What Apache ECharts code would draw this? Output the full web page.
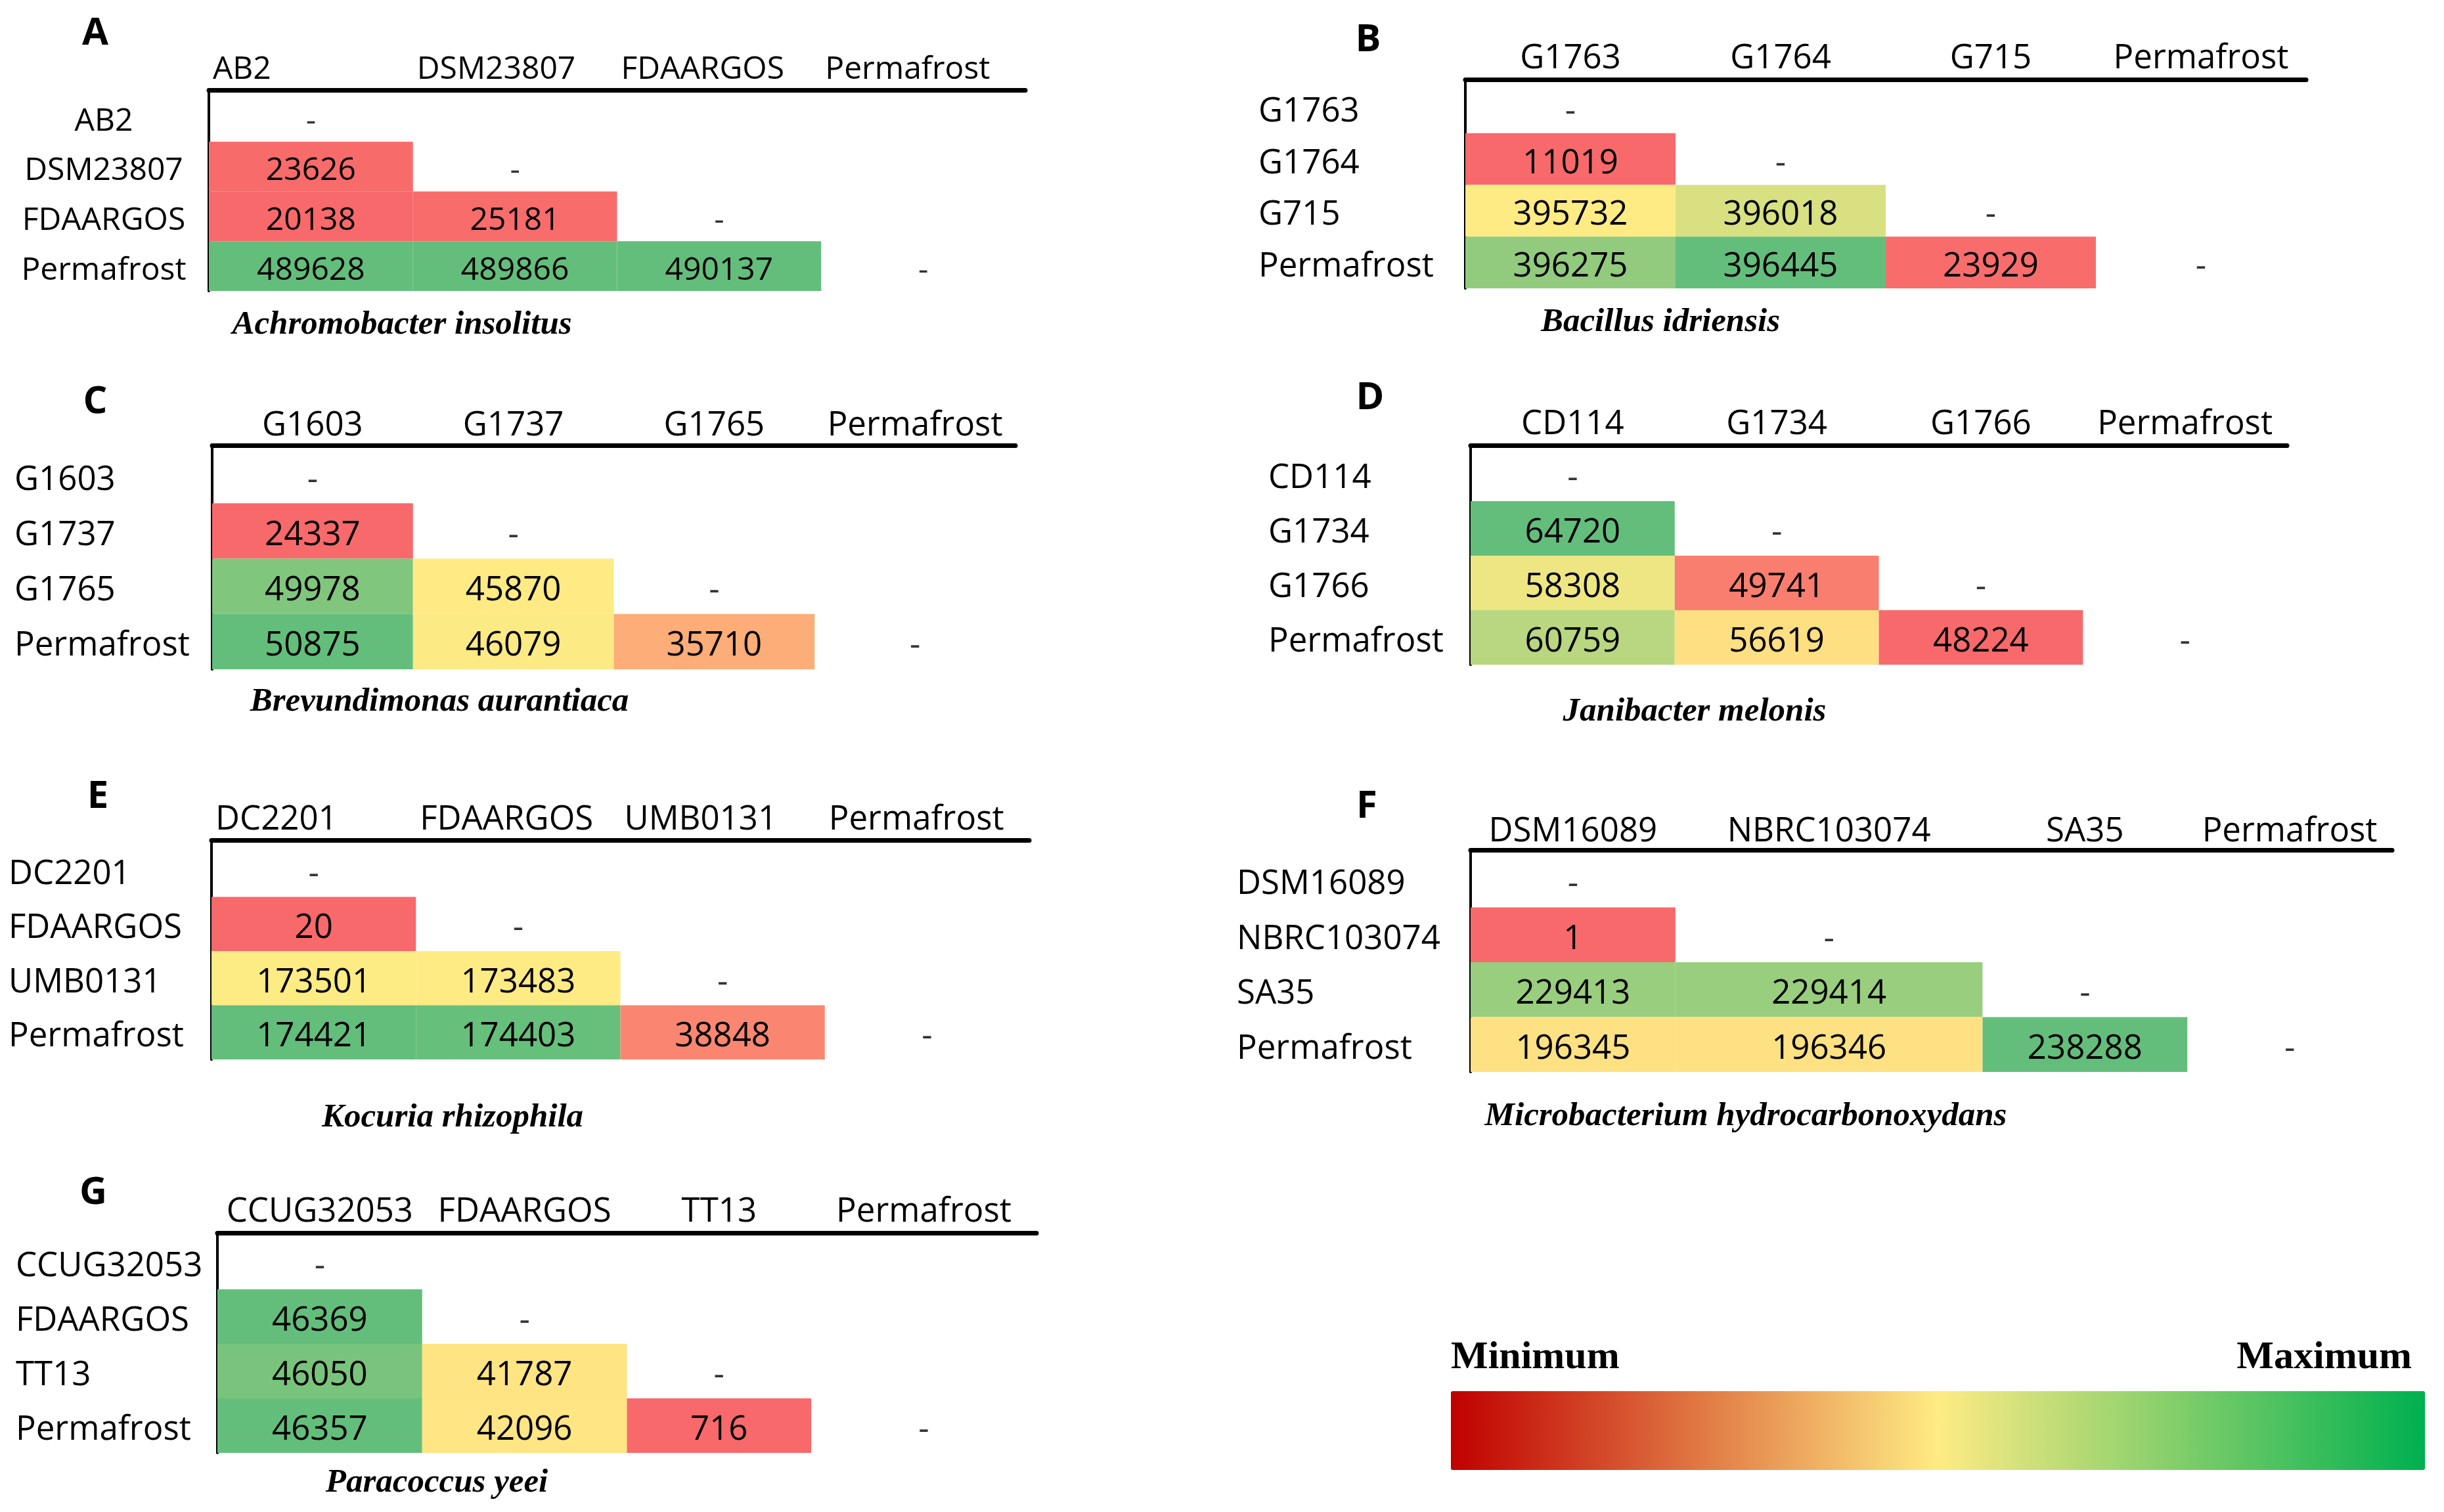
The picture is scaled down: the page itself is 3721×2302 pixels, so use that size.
<!DOCTYPE html>
<html>
<head>
<meta charset="utf-8">
<script src="https://cdn.jsdelivr.net/npm/echarts@6/dist/echarts.min.js"></script>
<style>
html, body { margin: 0; padding: 0; background: #fff; }
#main { width: 3721px; height: 2302px; }
</style>
</head>
<body>
<div id="main"></div>
<script>
// strain names and lower-triangle values (row 2..4 of each table)
var namesA = ['AB2', 'DSM23807', 'FDAARGOS', 'Permafrost'];
var valuesA = [[23626], [20138, 25181], [489628, 489866, 490137]];

var namesB = ['G1763', 'G1764', 'G715', 'Permafrost'];
var valuesB = [[11019], [395732, 396018], [396275, 396445, 23929]];

var namesC = ['G1603', 'G1737', 'G1765', 'Permafrost'];
var valuesC = [[24337], [49978, 45870], [50875, 46079, 35710]];

var namesD = ['CD114', 'G1734', 'G1766', 'Permafrost'];
var valuesD = [[64720], [58308, 49741], [60759, 56619, 48224]];

var namesE = ['DC2201', 'FDAARGOS', 'UMB0131', 'Permafrost'];
var valuesE = [[20], [173501, 173483], [174421, 174403, 38848]];

var namesF = ['DSM16089', 'NBRC103074', 'SA35', 'Permafrost'];
var valuesF = [[1], [229413, 229414], [196345, 196346, 238288]];

var namesG = ['CCUG32053', 'FDAARGOS', 'TT13', 'Permafrost'];
var valuesG = [[46369], [46050, 41787], [46357, 42096, 716]];

var species = ['Achromobacter insolitus', 'Bacillus idriensis', 'Brevundimonas aurantiaca',
  'Janibacter melonis', 'Kocuria rhizophila', 'Microbacterium hydrocarbonoxydans', 'Paracoccus yeei'];

var SANS = 'Open Sans';
var SERIF = 'Liberation Serif';
var SHIFT = 7; // text sits a little under the cell middle in the original

// layout of each table on the page (cols = relative column widths)
var panels = [
  {letter: 'A', names: namesA, values: valuesA, lineY: 137, grid: {left: 318, top: 140, width: 1243, height: 303},
    cols: [1, 1, 1, 1], letterAt: [145, 51], titleAt: [612, 495], headY: 106, rowMargin: 160, rowAlign: 'center', headLeft: true, font: 48},
  {letter: 'B', names: namesB, values: valuesB, lineY: 121, grid: {left: 2231, top: 124, width: 1280, height: 315},
    cols: [1, 1, 1, 1], letterAt: [2083, 61], titleAt: [2528, 491], headY: 89, rowMargin: 315, rowAlign: 'left', headLeft: false, font: 51},
  {letter: 'C', names: namesC, values: valuesC, lineY: 678, grid: {left: 323, top: 682, width: 1223, height: 337},
    cols: [1, 1, 1, 1], letterAt: [145, 612], titleAt: [669, 1069], headY: 648, rowMargin: 301, rowAlign: 'left', headLeft: false, font: 51},
  {letter: 'D', names: namesD, values: valuesD, lineY: 678, grid: {left: 2239, top: 680, width: 1243, height: 332},
    cols: [1, 1, 1, 1], letterAt: [2086, 606], titleAt: [2580, 1084], headY: 646, rowMargin: 308, rowAlign: 'left', headLeft: false, font: 51},
  {letter: 'E', names: namesE, values: valuesE, lineY: 1279, grid: {left: 322, top: 1283, width: 1245, height: 330},
    cols: [1, 1, 1, 1], letterAt: [149, 1213], titleAt: [689, 1702], headY: 1248, rowMargin: 309, rowAlign: 'left', headLeft: true, font: 51},
  {letter: 'F', names: namesF, values: valuesF, lineY: 1294, grid: {left: 2239, top: 1298, width: 1403, height: 334},
    cols: [2, 3, 2, 2], letterAt: [2081, 1228], titleAt: [2658, 1700], headY: 1266, rowMargin: 356, rowAlign: 'left', headLeft: false, font: 51},
  {letter: 'G', names: namesG, values: valuesG, lineY: 1877, grid: {left: 331, top: 1880, width: 1247, height: 332},
    cols: [1, 1, 0.9, 1.1], letterAt: [142, 1816], titleAt: [665, 2258], headY: 1845, rowMargin: 307, rowAlign: 'left', headLeft: false, font: 51}
];

// excel style 3-colour scale: min -> 50th percentile -> max
function percentile50(arr) {
  var s = arr.slice().sort(function (a, b) { return a - b; });
  var pos = (s.length - 1) * 0.5;
  var lo = Math.floor(pos), hi = Math.ceil(pos);
  return s[lo] + (s[hi] - s[lo]) * (pos - lo);
}
function scalePos(v, mn, md, mx) {
  if (v <= md) return md === mn ? 0.5 : 0.5 * (v - mn) / (md - mn);
  return mx === md ? 1 : 0.5 + 0.5 * (v - md) / (mx - md);
}

function renderCell(font) {
  return function (params, api) {
    var p0 = api.coord([api.value(0), api.value(2)]);
    var p1 = api.coord([api.value(1), api.value(2)]);
    var h = api.size([0, 1])[1];
    return {
      type: 'rect',
      shape: {x: p0[0], y: p0[1] - h / 2, width: p1[0] - p0[0], height: h},
      style: {fill: api.visual('color')},
      textContent: {style: {text: String(api.value(3)), fontFamily: SANS, fontSize: font, fill: '#000'}},
      textConfig: {position: 'inside', offset: [0, SHIFT]}
    };
  };
}

var grids = [], xAxes = [], yAxes = [], series = [], titles = [], cellIdx = [];

panels.forEach(function (p, i) {
  var all = [];
  p.values.forEach(function (row) { all = all.concat(row); });
  var mn = Math.min.apply(null, all), mx = Math.max.apply(null, all), md = percentile50(all);

  // column edges in axis units
  var edges = [0];
  p.cols.forEach(function (w) { edges.push(edges[edges.length - 1] + w); });
  var centers = p.cols.map(function (w, k) { return (edges[k] + edges[k + 1]) / 2; });
  var headAt = p.headLeft ? edges.slice(0, 4) : centers;
  var headName = {};
  headAt.forEach(function (v, k) { headName[v] = p.names[k]; });

  var cells = [];
  p.values.forEach(function (row, r) {
    row.forEach(function (v, c) {
      cells.push([edges[c], edges[c + 1], r + 1, v, scalePos(v, mn, md, mx)]);
    });
  });
  var diag = p.names.map(function (n, k) { return [centers[k], k]; });

  grids.push(p.grid);
  var labelStyle = {fontFamily: SANS, fontSize: p.font, color: '#000'};

  xAxes.push({
    type: 'value', gridIndex: i, position: 'top', min: 0, max: edges[4],
    offset: p.grid.top - p.lineY,
    axisLine: {show: true, lineStyle: {color: '#000', width: 7}},
    axisTick: {show: false}, splitLine: {show: false},
    axisLabel: Object.assign({
      customValues: headAt, align: p.headLeft ? 'left' : 'center',
      padding: p.headLeft ? [0, 0, 0, 6] : 0,
      margin: p.lineY - p.headY - p.font / 2,
      formatter: function (v) { return headName[v]; }
    }, labelStyle)
  });
  yAxes.push({
    type: 'category', gridIndex: i, inverse: true, data: p.names,
    axisLine: {show: true, onZero: false, lineStyle: {color: '#000', width: 4}},
    axisTick: {show: false}, splitLine: {show: false},
    axisLabel: Object.assign({interval: 0, align: p.rowAlign, margin: p.rowMargin,
      verticalAlign: 'top', lineHeight: 2 * SHIFT}, labelStyle)
  });

  cellIdx.push(series.length);
  series.push({
    type: 'custom', xAxisIndex: i, yAxisIndex: i, data: cells,
    encode: {x: [0, 1], y: 2},
    renderItem: renderCell(p.font),
    emphasis: {disabled: true}
  });
  series.push({
    type: 'scatter', xAxisIndex: i, yAxisIndex: i, data: diag,
    symbolSize: 1, itemStyle: {color: 'rgba(0,0,0,0)'},
    label: Object.assign({show: true, position: 'inside', formatter: '-', offset: [0, SHIFT]}, labelStyle),
    emphasis: {disabled: true}
  });

  titles.push({
    text: p.letter, left: p.letterAt[0], top: p.letterAt[1], padding: 0,
    textAlign: 'center', textVerticalAlign: 'middle',
    textStyle: {fontFamily: SANS, fontWeight: 'bold', fontSize: 58, color: '#000'}
  });
  titles.push({
    text: species[i], left: p.titleAt[0], top: p.titleAt[1], padding: 0,
    textAlign: 'center', textVerticalAlign: 'middle',
    textStyle: {fontFamily: SERIF, fontStyle: 'italic', fontWeight: 'bold', fontSize: 51, color: '#000'}
  });
});

titles.push({
  text: 'Minimum', left: 2209, top: 2067, padding: 0, textAlign: 'left', textVerticalAlign: 'middle',
  textStyle: {fontFamily: SERIF, fontWeight: 'bold', fontSize: 60, color: '#000'}
});
titles.push({
  text: 'Maximum', left: 3672, top: 2067, padding: 0, textAlign: 'right', textVerticalAlign: 'middle',
  textStyle: {fontFamily: SERIF, fontWeight: 'bold', fontSize: 60, color: '#000'}
});

var myChart = echarts.init(document.getElementById('main'));
var option = {
  backgroundColor: '#fff',
  animation: false,
  title: titles,
  grid: grids,
  xAxis: xAxes,
  yAxis: yAxes,
  visualMap: [
    {
      type: 'continuous', show: false, dimension: 4, min: 0, max: 1,
      seriesIndex: cellIdx,
      inRange: {color: ['#F8696B', '#FFEB84', '#63BE7B']}
    },
    {
      type: 'continuous', show: true, min: 0, max: 1, seriesIndex: [],
      orient: 'horizontal', left: 2209, top: 2118, padding: 0,
      itemWidth: 120, itemHeight: 1483, calculable: false, hoverLink: false,
      inRange: {color: ['#C00000', '#FFEB84', '#00B050']}
    }
  ],
  series: series
};
myChart.setOption(option, true);
</script>
</body>
</html>
